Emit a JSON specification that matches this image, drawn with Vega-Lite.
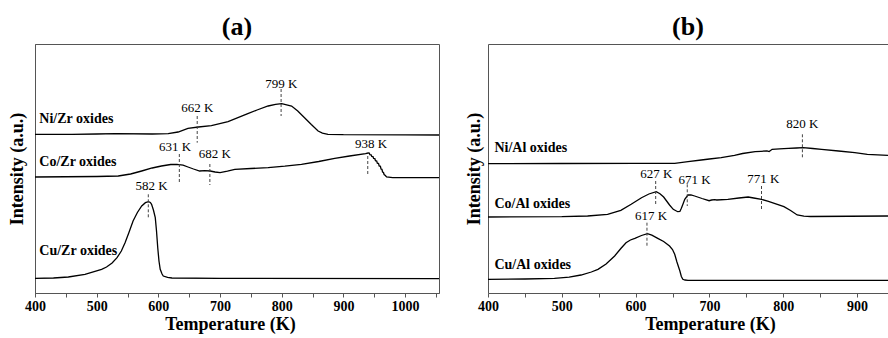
{
  "$schema": "https://vega.github.io/schema/vega-lite/v6.json",
  "padding": {"left": 7, "top": 13, "right": 0, "bottom": 0},
  "spacing": 25,
  "config": {
    "font": "Liberation Serif",
    "view": {"stroke": "#555", "strokeWidth": 1},
    "axis": {"grid": false, "domainColor": "#555", "tickColor": "#555", "labelFont": "Liberation Serif", "labelFontWeight": "bold", "labelFontSize": 14, "labelColor": "#000", "titleFont": "Liberation Serif", "titleFontWeight": "bold", "titleFontSize": 18, "titleColor": "#000"},
    "title": {"font": "Liberation Serif", "fontWeight": "bold", "fontSize": 26, "color": "#000"}
  },
  "datasets": {
    "traceA": [
      {"s": "Ni", "T": 400, "I": 158.7}, {"s": "Ni", "T": 460, "I": 158.7}, {"s": "Ni", "T": 500, "I": 159}, {"s": "Ni", "T": 530, "I": 159.3}, {"s": "Ni", "T": 590, "I": 159}, {"s": "Ni", "T": 616, "I": 159.3}, {"s": "Ni", "T": 632, "I": 161}, {"s": "Ni", "T": 648, "I": 164.7}, {"s": "Ni", "T": 665, "I": 166}, {"s": "Ni", "T": 686, "I": 167.3}, {"s": "Ni", "T": 713, "I": 171.3}, {"s": "Ni", "T": 745, "I": 179.3}, {"s": "Ni", "T": 760, "I": 183}, {"s": "Ni", "T": 778, "I": 187}, {"s": "Ni", "T": 790, "I": 188.6}, {"s": "Ni", "T": 800, "I": 189.3}, {"s": "Ni", "T": 816, "I": 187}, {"s": "Ni", "T": 826, "I": 182}, {"s": "Ni", "T": 837, "I": 175.3}, {"s": "Ni", "T": 848, "I": 168.5}, {"s": "Ni", "T": 859, "I": 162}, {"s": "Ni", "T": 866, "I": 159.8}, {"s": "Ni", "T": 875, "I": 158.7}, {"s": "Ni", "T": 900, "I": 158.3}, {"s": "Ni", "T": 1000, "I": 158.2}, {"s": "Ni", "T": 1055, "I": 158},
      {"s": "Co", "T": 400, "I": 116}, {"s": "Co", "T": 500, "I": 116.5}, {"s": "Co", "T": 535, "I": 117}, {"s": "Co", "T": 555, "I": 119}, {"s": "Co", "T": 573, "I": 122}, {"s": "Co", "T": 590, "I": 125}, {"s": "Co", "T": 605, "I": 127}, {"s": "Co", "T": 620, "I": 128.5}, {"s": "Co", "T": 630, "I": 128.7}, {"s": "Co", "T": 640, "I": 127.8}, {"s": "Co", "T": 648, "I": 126}, {"s": "Co", "T": 657, "I": 124}, {"s": "Co", "T": 667, "I": 122}, {"s": "Co", "T": 675, "I": 122.3}, {"s": "Co", "T": 684, "I": 122}, {"s": "Co", "T": 692, "I": 121}, {"s": "Co", "T": 700, "I": 120.3}, {"s": "Co", "T": 712, "I": 121.8}, {"s": "Co", "T": 724, "I": 123.7}, {"s": "Co", "T": 750, "I": 124.5}, {"s": "Co", "T": 778, "I": 125.3}, {"s": "Co", "T": 805, "I": 126.8}, {"s": "Co", "T": 832, "I": 128.7}, {"s": "Co", "T": 860, "I": 131.5}, {"s": "Co", "T": 886, "I": 134.7}, {"s": "Co", "T": 910, "I": 137}, {"s": "Co", "T": 936, "I": 139.3}, {"s": "Co", "T": 940, "I": 140}, {"s": "Co", "T": 942, "I": 139.8}, {"s": "Co", "T": 943, "I": 138.3}, {"s": "Co", "T": 945, "I": 138.1}, {"s": "Co", "T": 946, "I": 136.5}, {"s": "Co", "T": 948, "I": 136.3}, {"s": "Co", "T": 949, "I": 134.5}, {"s": "Co", "T": 951, "I": 134.3}, {"s": "Co", "T": 952, "I": 132.3}, {"s": "Co", "T": 954, "I": 132}, {"s": "Co", "T": 955, "I": 129.8}, {"s": "Co", "T": 957, "I": 129.5}, {"s": "Co", "T": 958, "I": 127}, {"s": "Co", "T": 960, "I": 126.7}, {"s": "Co", "T": 961, "I": 124}, {"s": "Co", "T": 962.5, "I": 123.7}, {"s": "Co", "T": 963.5, "I": 121}, {"s": "Co", "T": 965, "I": 120.5}, {"s": "Co", "T": 966, "I": 118.5}, {"s": "Co", "T": 968, "I": 117.5}, {"s": "Co", "T": 970, "I": 116}, {"s": "Co", "T": 980, "I": 115.4}, {"s": "Co", "T": 1055, "I": 115.3},
      {"s": "Cu", "T": 400, "I": 14.7}, {"s": "Cu", "T": 430, "I": 15}, {"s": "Cu", "T": 454, "I": 16}, {"s": "Cu", "T": 481, "I": 18.7}, {"s": "Cu", "T": 508, "I": 23.7}, {"s": "Cu", "T": 516, "I": 26}, {"s": "Cu", "T": 525, "I": 30}, {"s": "Cu", "T": 533, "I": 35.3}, {"s": "Cu", "T": 540, "I": 42}, {"s": "Cu", "T": 546, "I": 50.3}, {"s": "Cu", "T": 552, "I": 60}, {"s": "Cu", "T": 559, "I": 72}, {"s": "Cu", "T": 566, "I": 80.5}, {"s": "Cu", "T": 573, "I": 87}, {"s": "Cu", "T": 579, "I": 90.3}, {"s": "Cu", "T": 584, "I": 91.3}, {"s": "Cu", "T": 587, "I": 90.5}, {"s": "Cu", "T": 589, "I": 88.7}, {"s": "Cu", "T": 592, "I": 83}, {"s": "Cu", "T": 595, "I": 75.3}, {"s": "Cu", "T": 597, "I": 62}, {"s": "Cu", "T": 599, "I": 45.3}, {"s": "Cu", "T": 601, "I": 32}, {"s": "Cu", "T": 603, "I": 23.7}, {"s": "Cu", "T": 606, "I": 19}, {"s": "Cu", "T": 608, "I": 17}, {"s": "Cu", "T": 615, "I": 15.6}, {"s": "Cu", "T": 622, "I": 15}, {"s": "Cu", "T": 700, "I": 14.6}, {"s": "Cu", "T": 1055, "I": 14.3}
    ],
    "traceB": [
      {"s": "Ni", "T": 400, "I": 129.3}, {"s": "Ni", "T": 500, "I": 129.5}, {"s": "Ni", "T": 600, "I": 129.6}, {"s": "Ni", "T": 653, "I": 129.7}, {"s": "Ni", "T": 671, "I": 131.3}, {"s": "Ni", "T": 689, "I": 133}, {"s": "Ni", "T": 700, "I": 134}, {"s": "Ni", "T": 716, "I": 135.3}, {"s": "Ni", "T": 734, "I": 137.7}, {"s": "Ni", "T": 745, "I": 139.5}, {"s": "Ni", "T": 762, "I": 141.3}, {"s": "Ni", "T": 770, "I": 141.7}, {"s": "Ni", "T": 778, "I": 142.2}, {"s": "Ni", "T": 781, "I": 141.4}, {"s": "Ni", "T": 785, "I": 143.7}, {"s": "Ni", "T": 795, "I": 144.2}, {"s": "Ni", "T": 807, "I": 144.7}, {"s": "Ni", "T": 818, "I": 145}, {"s": "Ni", "T": 827, "I": 145.3}, {"s": "Ni", "T": 840, "I": 144.5}, {"s": "Ni", "T": 852, "I": 143.7}, {"s": "Ni", "T": 875, "I": 142}, {"s": "Ni", "T": 897, "I": 140.3}, {"s": "Ni", "T": 914, "I": 138.7}, {"s": "Ni", "T": 942, "I": 137.7},
      {"s": "Co", "T": 400, "I": 76}, {"s": "Co", "T": 500, "I": 76.3}, {"s": "Co", "T": 535, "I": 77}, {"s": "Co", "T": 562, "I": 78.7}, {"s": "Co", "T": 580, "I": 82.7}, {"s": "Co", "T": 594, "I": 88.7}, {"s": "Co", "T": 608, "I": 95.3}, {"s": "Co", "T": 618, "I": 99}, {"s": "Co", "T": 628, "I": 101.3}, {"s": "Co", "T": 633, "I": 99.3}, {"s": "Co", "T": 638, "I": 96}, {"s": "Co", "T": 642, "I": 92}, {"s": "Co", "T": 646, "I": 88}, {"s": "Co", "T": 651, "I": 83.7}, {"s": "Co", "T": 657, "I": 81.3}, {"s": "Co", "T": 660, "I": 81.5}, {"s": "Co", "T": 662, "I": 84.7}, {"s": "Co", "T": 664.5, "I": 89.5}, {"s": "Co", "T": 666.6, "I": 93.7}, {"s": "Co", "T": 671, "I": 98}, {"s": "Co", "T": 675, "I": 98.2}, {"s": "Co", "T": 680, "I": 97}, {"s": "Co", "T": 690, "I": 94.5}, {"s": "Co", "T": 699.6, "I": 92.3}, {"s": "Co", "T": 703, "I": 93}, {"s": "Co", "T": 707, "I": 93.3}, {"s": "Co", "T": 710, "I": 93}, {"s": "Co", "T": 725, "I": 93.7}, {"s": "Co", "T": 740, "I": 95}, {"s": "Co", "T": 752.5, "I": 96}, {"s": "Co", "T": 760, "I": 95}, {"s": "Co", "T": 770.6, "I": 93.7}, {"s": "Co", "T": 780, "I": 91.6}, {"s": "Co", "T": 789, "I": 89.3}, {"s": "Co", "T": 801, "I": 86.3}, {"s": "Co", "T": 810, "I": 82.5}, {"s": "Co", "T": 819, "I": 78}, {"s": "Co", "T": 828, "I": 76.8}, {"s": "Co", "T": 837, "I": 76.5}, {"s": "Co", "T": 942, "I": 77},
      {"s": "Cu", "T": 400, "I": 13.7}, {"s": "Cu", "T": 450, "I": 14}, {"s": "Cu", "T": 490, "I": 14.7}, {"s": "Cu", "T": 510, "I": 15.8}, {"s": "Cu", "T": 526, "I": 18}, {"s": "Cu", "T": 540, "I": 21}, {"s": "Cu", "T": 549, "I": 23.7}, {"s": "Cu", "T": 560, "I": 29}, {"s": "Cu", "T": 571.6, "I": 37}, {"s": "Cu", "T": 580, "I": 44.5}, {"s": "Cu", "T": 587, "I": 50.3}, {"s": "Cu", "T": 593, "I": 53}, {"s": "Cu", "T": 599, "I": 54.7}, {"s": "Cu", "T": 608, "I": 57.5}, {"s": "Cu", "T": 616, "I": 59.3}, {"s": "Cu", "T": 622, "I": 57.8}, {"s": "Cu", "T": 630, "I": 54.7}, {"s": "Cu", "T": 638, "I": 51.5}, {"s": "Cu", "T": 646, "I": 47}, {"s": "Cu", "T": 650, "I": 43.5}, {"s": "Cu", "T": 653, "I": 38.7}, {"s": "Cu", "T": 656, "I": 31}, {"s": "Cu", "T": 660, "I": 22}, {"s": "Cu", "T": 662, "I": 16.5}, {"s": "Cu", "T": 664, "I": 13.7}, {"s": "Cu", "T": 667, "I": 13}, {"s": "Cu", "T": 671, "I": 12.7}, {"s": "Cu", "T": 942, "I": 12.7}
    ],
    "peaksA": [
      {"label": "799 K", "T": 799, "top": 204, "bottom": 177, "labelT": 799.5, "labelI": 208.7},
      {"label": "662 K", "T": 663, "top": 177, "bottom": 150.3, "labelT": 663, "labelI": 184.7},
      {"label": "631 K", "T": 634, "top": 139, "bottom": 110, "labelT": 627, "labelI": 146},
      {"label": "682 K", "T": 683.5, "top": 129, "bottom": 108, "labelT": 691.6, "labelI": 139.3},
      {"label": "938 K", "T": 939.5, "top": 137, "bottom": 118, "labelT": 945, "labelI": 149.3},
      {"label": "582 K", "T": 583.7, "top": 98.7, "bottom": 73.7, "labelT": 589, "labelI": 107.5}
    ],
    "peaksB": [
      {"label": "820 K", "T": 826, "top": 158.7, "bottom": 134.7, "labelT": 826, "labelI": 168.7},
      {"label": "627 K", "T": 627.2, "top": 112, "bottom": 87, "labelT": 628, "labelI": 118.7},
      {"label": "671 K", "T": 670, "top": 108.7, "bottom": 87, "labelT": 680, "labelI": 113},
      {"label": "771 K", "T": 770.6, "top": 107, "bottom": 83.7, "labelT": 773, "labelI": 113.7},
      {"label": "617 K", "T": 615.4, "top": 70.3, "bottom": 45.3, "labelT": 621, "labelI": 77}
    ],
    "namesA": [
      {"name": "Ni/Zr oxides", "T": 407, "I": 173.7},
      {"name": "Co/Zr oxides", "T": 407, "I": 131.3},
      {"name": "Cu/Zr oxides", "T": 407, "I": 42}
    ],
    "namesB": [
      {"name": "Ni/Al oxides", "T": 408.7, "I": 145.3},
      {"name": "Co/Al oxides", "T": 408.7, "I": 88.7},
      {"name": "Cu/Al oxides", "T": 408.7, "I": 28}
    ]
  },
  "hconcat": [
    {
      "title": {"text": "(a)", "offset": 4},
      "width": 404,
      "height": 249,
      "view": {"stroke": "#555", "strokeWidth": 1},
      "resolve": {"axis": {"x": "independent", "y": "independent"}},
      "layer": [
        {
          "data": {"name": "traceA"},
          "mark": {"type": "line", "color": "#000", "strokeWidth": 1.3, "clip": true},
          "encoding": {
            "x": {"field": "T", "type": "quantitative", "scale": {"domain": [400, 1055], "nice": false, "zero": false},
              "axis": {"orient": "bottom", "values": [400, 450, 500, 550, 600, 650, 700, 750, 800, 850, 900, 950, 1000, 1050], "format": "d", "labelExpr": "datum.value % 100 == 0 ? datum.label : ''", "labelFlush": false, "labelOverlap": false, "tickSize": 4, "labelPadding": 2, "title": "Temperature (K)", "titleX": 195, "titlePadding": 2}},
            "y": {"field": "I", "type": "quantitative", "scale": {"domain": [0, 249], "nice": false, "zero": false},
              "axis": {"orient": "left", "labels": false, "ticks": false, "title": "Intensity (a.u.)", "titlePadding": 9}},
            "detail": {"field": "s"}
          }
        },
        {
          "data": {"name": "peaksA"},
          "mark": {"type": "rule", "strokeDash": [3, 2], "color": "#444", "strokeWidth": 1},
          "encoding": {
            "x": {"field": "T", "type": "quantitative", "axis": null},
            "y": {"field": "top", "type": "quantitative", "axis": null},
            "y2": {"field": "bottom"}
          }
        },
        {
          "data": {"name": "peaksA"},
          "mark": {"type": "text", "fontSize": 13, "align": "center", "baseline": "middle", "color": "#000"},
          "encoding": {
            "x": {"field": "labelT", "type": "quantitative", "axis": null},
            "y": {"field": "labelI", "type": "quantitative", "axis": null},
            "text": {"field": "label"}
          }
        },
        {
          "data": {"name": "namesA"},
          "mark": {"type": "text", "fontSize": 14, "fontWeight": "bold", "align": "left", "baseline": "middle", "color": "#000"},
          "encoding": {
            "x": {"field": "T", "type": "quantitative", "axis": null},
            "y": {"field": "I", "type": "quantitative", "axis": null},
            "text": {"field": "name"}
          }
        }
      ]
    },
    {
      "title": {"text": "(b)", "offset": 4},
      "width": 400,
      "height": 249,
      "view": {"stroke": null},
      "resolve": {"axis": {"x": "independent"}},
      "layer": [
        {
          "data": {"name": "traceB"},
          "mark": {"type": "line", "color": "#000", "strokeWidth": 1.3, "clip": true},
          "encoding": {
            "x": {"field": "T", "type": "quantitative", "scale": {"domain": [400, 942], "nice": false, "zero": false},
              "axis": {"orient": "bottom", "values": [400, 450, 500, 550, 600, 650, 700, 750, 800, 850, 900], "format": "d", "labelExpr": "datum.value % 100 == 0 ? datum.label : ''", "labelFlush": false, "labelOverlap": false, "tickSize": 4, "labelPadding": 2, "title": "Temperature (K)", "titleX": 222, "titlePadding": 2}},
            "y": {"field": "I", "type": "quantitative", "scale": {"domain": [0, 249], "nice": false, "zero": false},
              "axis": {"labels": false, "ticks": false, "title": "Intensity (a.u.)", "titlePadding": 5}},
            "detail": {"field": "s"}
          }
        },
        {
          "data": {"name": "peaksB"},
          "mark": {"type": "rule", "strokeDash": [3, 2], "color": "#444", "strokeWidth": 1},
          "encoding": {
            "x": {"field": "T", "type": "quantitative", "axis": null},
            "y": {"field": "top", "type": "quantitative"},
            "y2": {"field": "bottom"}
          }
        },
        {
          "data": {"name": "peaksB"},
          "mark": {"type": "text", "fontSize": 13, "align": "center", "baseline": "middle", "color": "#000"},
          "encoding": {
            "x": {"field": "labelT", "type": "quantitative", "axis": null},
            "y": {"field": "labelI", "type": "quantitative"},
            "text": {"field": "label"}
          }
        },
        {
          "data": {"name": "namesB"},
          "mark": {"type": "text", "fontSize": 14, "fontWeight": "bold", "align": "left", "baseline": "middle", "color": "#000"},
          "encoding": {
            "x": {"field": "T", "type": "quantitative", "axis": {"orient": "top", "labels": false, "ticks": false, "title": null}},
            "y": {"field": "I", "type": "quantitative"},
            "text": {"field": "name"}
          }
        }
      ]
    }
  ]
}
